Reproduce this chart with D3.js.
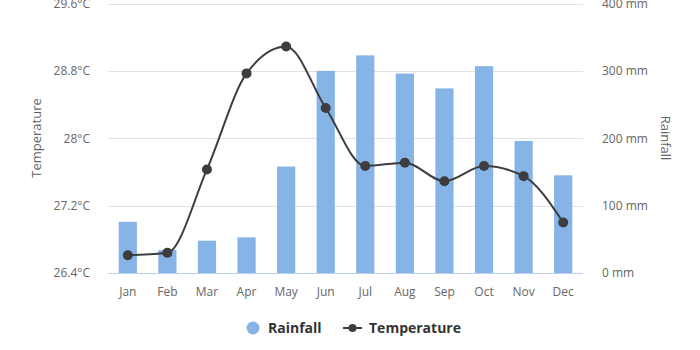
<!DOCTYPE html>
<html>
<head>
<meta charset="utf-8">
<script src="https://cdn.jsdelivr.net/npm/d3@7"></script>
<style>
  body { margin: 0; background: #fff; }
  svg text { font-family: "Open Sans", sans-serif; }
</style>
</head>
<body>
<svg width="700" height="350"></svg>
<script>
// chart data
var months = ["Jan","Feb","Mar","Apr","May","Jun","Jul","Aug","Sep","Oct","Nov","Dec"];
var rainfall = [76, 34, 48, 53, 158, 300, 323, 296, 274, 307, 196, 145];
var temperature = [26.61, 26.64, 27.63, 28.77, 29.09, 28.36, 27.67, 27.71, 27.49, 27.67, 27.55, 27.0];
var tempTicks = [26.4, 27.2, 28, 28.8, 29.6];
var rainTicks = [0, 100, 200, 300, 400];

var svg = d3.select("svg");
var plotL = 108, plotR = 583, plotT = 3.5, plotB = 273;

var x = d3.scaleBand().domain(months).range([plotL, plotR]).paddingInner(0.54).paddingOuter(0.27);
var yT = d3.scaleLinear().domain([26.4, 29.6]).range([plotB, plotT]);
var yR = d3.scaleLinear().domain([0, 400]).range([plotB, plotT]);

// gridlines
svg.append("g")
  .selectAll("line")
  .data(tempTicks.slice(1))
  .enter().append("line")
    .attr("x1", plotL).attr("x2", plotR)
    .attr("y1", function(d){ return Math.round(yT(d)) + 0.5; })
    .attr("y2", function(d){ return Math.round(yT(d)) + 0.5; })
    .attr("stroke", "#e2e2e2");

// bars
svg.append("g")
  .selectAll("rect")
  .data(rainfall)
  .enter().append("rect")
    .attr("x", function(d,i){ return x(months[i]); })
    .attr("width", x.bandwidth())
    .attr("y", function(d){ return yR(d); })
    .attr("height", function(d){ return plotB - yR(d); })
    .attr("fill", "#86b4e7");

// baseline
svg.append("line")
  .attr("x1", plotL).attr("x2", plotR)
  .attr("y1", plotB + 0.5).attr("y2", plotB + 0.5)
  .attr("stroke", "#b9cfee");

// axes (text only)
var fmtT = function(d){ return (+d.toFixed(1)) + "°C"; };
var leftAxis = svg.append("g")
  .attr("transform", "translate(" + (plotL - 18) + ",0)")
  .call(d3.axisLeft(yT).tickValues(tempTicks).tickFormat(fmtT).tickSize(0).tickPadding(0));
var rightAxis = svg.append("g")
  .attr("transform", "translate(602,0)")
  .call(d3.axisRight(yR).tickValues(rainTicks).tickFormat(function(d){ return d + " mm"; }).tickSize(0).tickPadding(0));
var bottomAxis = svg.append("g")
  .attr("transform", "translate(0," + (plotB + 14) + ")")
  .call(d3.axisBottom(x).tickSize(0).tickPadding(0));

[leftAxis, rightAxis, bottomAxis].forEach(function(g){
  g.select(".domain").remove();
  g.selectAll("text").attr("font-size", 12).attr("fill", "#666").attr("font-family", "Open Sans, sans-serif");
});
bottomAxis.selectAll("text").attr("dy", "0.71em");

// axis titles
svg.append("text")
  .attr("transform", "translate(41,138) rotate(-90)")
  .attr("text-anchor", "middle")
  .attr("font-size", 13).attr("fill", "#666")
  .text("Temperature");
svg.append("text")
  .attr("transform", "translate(661,138) rotate(90)")
  .attr("text-anchor", "middle")
  .attr("font-size", 13).attr("fill", "#666")
  .text("Rainfall");

// temperature line
var cx = function(d,i){ return x(months[i]) + x.bandwidth() / 2; };
var line = d3.line()
  .x(cx)
  .y(function(d){ return yT(d); })
  .curve(d3.curveMonotoneX);
svg.append("path")
  .datum(temperature)
  .attr("d", line)
  .attr("fill", "none")
  .attr("stroke", "#3d3d3f")
  .attr("stroke-width", 2);
svg.append("g")
  .selectAll("circle")
  .data(temperature)
  .enter().append("circle")
    .attr("cx", cx)
    .attr("cy", function(d){ return yT(d); })
    .attr("r", 5)
    .attr("fill", "#3d3d3f");

// legend
var lg = svg.append("g").attr("font-size", 14).attr("font-weight", "bold").attr("fill", "#333");
lg.append("circle").attr("cx", 253).attr("cy", 328).attr("r", 6.5).attr("fill", "#86b4e7");
lg.append("text").attr("x", 268).attr("y", 333).text("Rainfall");
lg.append("line").attr("x1", 343).attr("x2", 362).attr("y1", 328).attr("y2", 328)
  .attr("stroke", "#3d3d3f").attr("stroke-width", 2);
lg.append("circle").attr("cx", 352.5).attr("cy", 328).attr("r", 4).attr("fill", "#3d3d3f");
lg.append("text").attr("x", 369).attr("y", 333).text("Temperature");
</script>
</body>
</html>
